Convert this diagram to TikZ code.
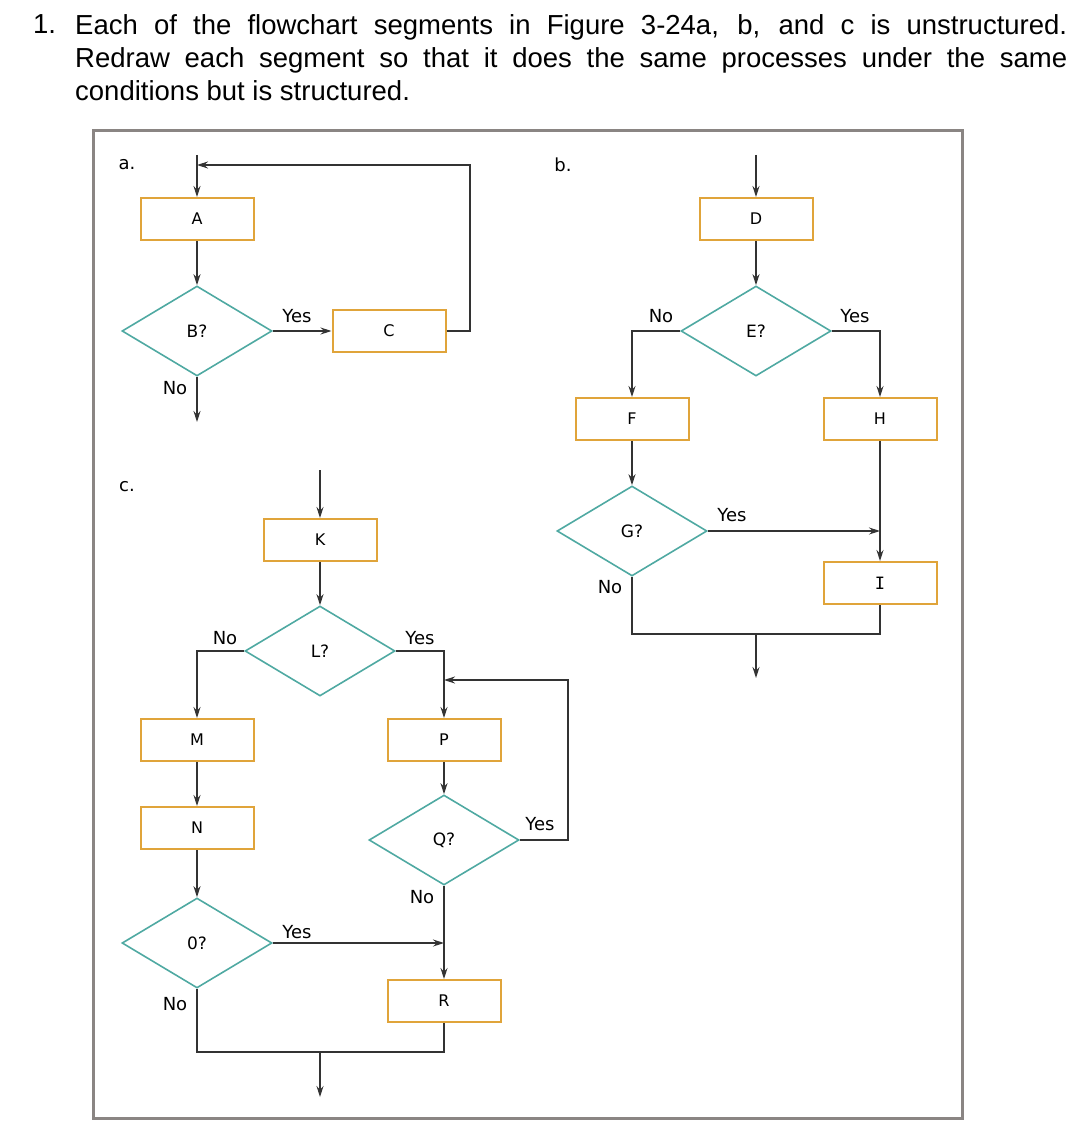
\documentclass[tikz,border=0pt]{standalone}
\usepackage{fontspec}
\setmainfont{DejaVu Sans}
\newfontfamily\titlefont{Liberation Sans}
\newfontfamily\mymonofont{DejaVu Sans Mono}
\usetikzlibrary{shapes.geometric,arrows.meta}
\definecolor{boxor}{HTML}{E0A43A}
\definecolor{dteal}{HTML}{4FA9A2}
\definecolor{lnc}{HTML}{333333}
\definecolor{framec}{HTML}{8A8583}
\tikzset{
 procbox/.style={draw=boxor,line width=2pt,minimum width=113pt,minimum height=42pt,inner sep=0pt,font=\fontsize{16}{16}\selectfont},
 decbox/.style={diamond,draw=dteal,line width=1.6pt,minimum width=150pt,minimum height=90pt,inner sep=0pt,aspect=1.67,font=\fontsize{17}{17}\selectfont},
 lab/.style={font=\fontsize{18}{18}\selectfont,inner sep=0pt},
 flow/.style={draw=lnc,line width=1.2pt},
 arr/.style={flow,-{Stealth[length=11pt,width=7pt]}},
}
\begin{document}
\begin{tikzpicture}[x=1pt,y=-1pt]
\useasboundingbox (0,0) rectangle (1080,1126);
\node[anchor=north west,inner sep=0pt,font=\titlefont\fontsize{27.5}{33}\selectfont] (num) at (33,14) {1.};
\node[anchor=north west,inner sep=0pt,text width=992pt,align=justify,font=\titlefont\fontsize{27.5}{33}\selectfont] (title) at (75,14) {Each of the flowchart segments in Figure 3-24a, b, and c is unstructured.\linebreak Redraw each segment so that it does the same processes under the same\linebreak conditions but is structured.};
\draw[framec,line width=3pt] (93,131) rectangle (962,1118);
% part a
\node[lab] (la) at (127,165) {a.};
\coordinate (ain) at (197,155);
\node[procbox] (A) at (197,219) {A};
\node[decbox] (B) at (197,331) {B?};
\node[procbox] (C) at (389,331) {C};
\coordinate (aloop) at (197,165);
\coordinate (aout) at (197,422);
\draw[arr] (ain) -- (A.north);
\draw[arr] (A.south) -- (B.north);
\draw[arr] (B.east) -- (C.west);
\draw[arr] (C.east) -- (470,331) -- (470,165) -- (aloop);
\draw[arr] (B.south) -- (aout);
\node[lab] (yb) at (297,316) {Yes};
\node[lab] (nb) at (175,388) {No};
% part b
\node[lab] (lb) at (563,165) {b.};
\coordinate (bin) at (756,155);
\node[procbox] (D) at (756,219) {D};
\node[decbox] (E) at (756,331) {E?};
\node[procbox] (F) at (632,419) {F};
\node[procbox] (H) at (880,419) {H};
\node[decbox] (G) at (632,531) {G?};
\node[procbox,font=\mymonofont\fontsize{17}{17}\selectfont] (I) at (880,583) {I};
\coordinate (bj) at (756,634);
\coordinate (bout) at (756,678);
\draw[arr] (bin) -- (D.north);
\draw[arr] (D.south) -- (E.north);
\draw[arr] (E.west) -| (F.north);
\draw[arr] (E.east) -| (H.north);
\draw[arr] (F.south) -- (G.north);
\draw[arr] (H.south) -- (I.north);
\draw[arr] (G.east) -- (880,531);
\draw[flow] (G.south) |- (bj) -| (I.south);
\draw[arr] (bj) -- (bout);
\node[lab] (nE) at (661,316) {No};
\node[lab] (yE) at (855,316) {Yes};
\node[lab] (yG) at (732,515) {Yes};
\node[lab] (nG) at (610,587) {No};
% part c
\node[lab] (lc) at (127,487) {c.};
\coordinate (cin) at (320,470);
\node[procbox] (K) at (320,540) {K};
\node[decbox] (L) at (320,651) {L?};
\node[procbox] (M) at (197,740) {M};
\node[procbox] (N) at (197,828) {N};
\node[decbox] (O) at (197,943) {0?};
\node[procbox] (P) at (444,740) {P};
\node[decbox] (Q) at (444,840) {Q?};
\node[procbox] (R) at (444,1001) {R};
\coordinate (cj) at (320,1052);
\coordinate (cout) at (320,1097);
\draw[arr] (cin) -- (K.north);
\draw[arr] (K.south) -- (L.north);
\draw[arr] (L.west) -| (M.north);
\draw[arr] (L.east) -| (P.north);
\draw[arr] (M.south) -- (N.north);
\draw[arr] (N.south) -- (O.north);
\draw[arr] (P.south) -- (Q.north);
\draw[arr] (Q.east) -- (568,840) -- (568,680) -- (444,680);
\draw[arr] (Q.south) -- (R.north);
\draw[arr] (O.east) -- (444,943);
\draw[flow] (O.south) |- (cj) -| (R.south);
\draw[arr] (cj) -- (cout);
\node[lab] (nL) at (225,638) {No};
\node[lab] (yL) at (420,638) {Yes};
\node[lab] (yQ) at (540,824) {Yes};
\node[lab] (nQ) at (422,897) {No};
\node[lab] (yO) at (297,932) {Yes};
\node[lab] (nO) at (175,1004) {No};
\end{tikzpicture}
\end{document}
